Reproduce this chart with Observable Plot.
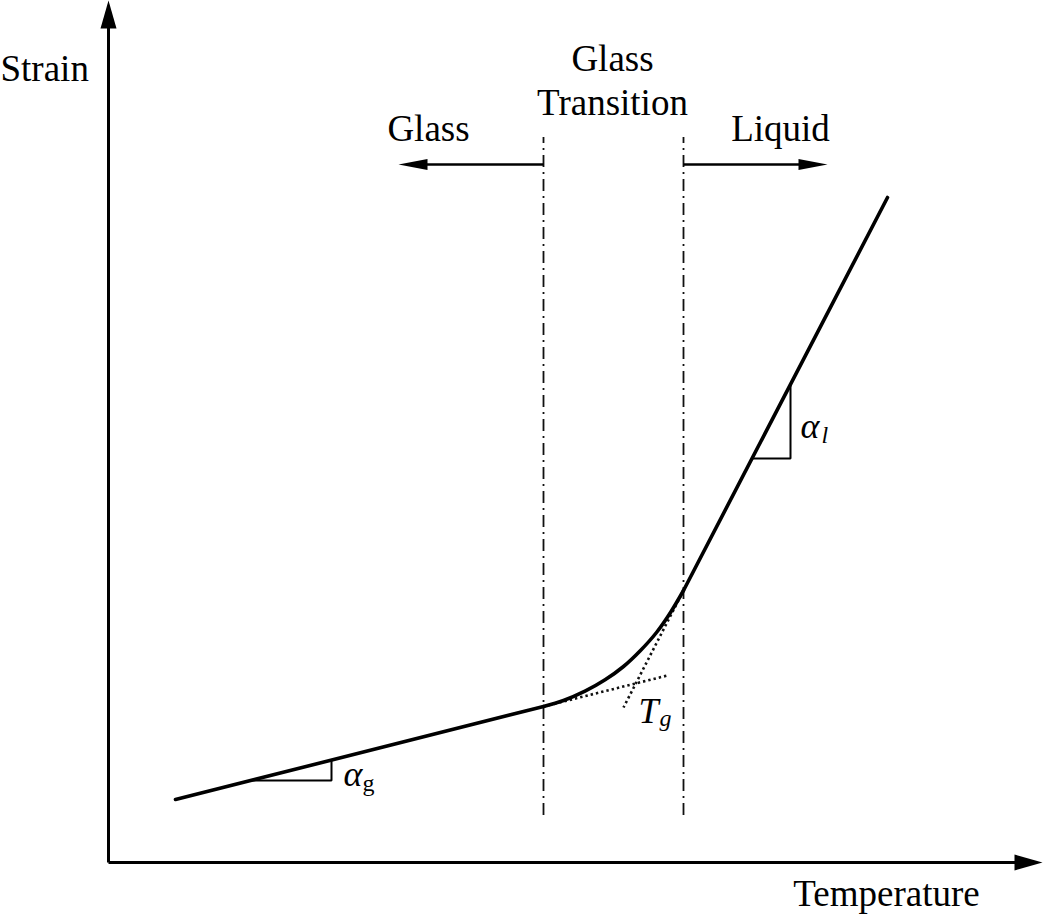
<!DOCTYPE html>
<html>
<head>
<meta charset="utf-8">
<script src="https://cdn.jsdelivr.net/npm/d3@7"></script>
<script src="https://cdn.jsdelivr.net/npm/@observablehq/plot@0.6"></script>
<style>
  html, body { margin: 0; padding: 0; background: #fff; }
  #chart svg { display: block; }
</style>
</head>
<body>
<div id="chart"></div>
<script>
// Schematic data (temperature, strain) in arbitrary units; origin = axes corner
const yAxisLine = [[0, 0], [0, 845]];
const xAxisLine = [[0, 0], [910, 0]];
const glassLine = [[67, 63], [435, 156]];
const transitionCurve = [[435, 156], [455, 162], [476.5, 171.3], [496.6, 182.7], [515, 196], [532, 212], [548, 230], [562, 250], [575, 272]];
const liquidLine = [[575, 272], [779, 665]];
const glassExtension = [[435, 156], [559, 187]];
const liquidExtension = [[575, 272], [515, 155]];
const regionBounds = [435, 575];
const regionBoundsSpan = [47, 725];
const glassSlopeTri = [[142, 82], [223, 82], [223, 102]];
const liquidSlopeTri = [[643, 404], [682, 404], [682, 478]];
const glassArrow = [[300, 698], [435, 698]];
const liquidArrow = [[575, 698], [709, 698]];
const axisHeads = [{x: 0, y: 862, rot: -90}, {x: 934, y: 0, rot: 0}];
const regionHeads = [{x: 290, y: 698, rot: 180}, {x: 719, y: 698, rot: 0}];
const yTitle = [{x: -108, y: 782, text: "Strain"}];
const centeredLabels = [
  {x: 778, y: -43, text: "Temperature"},
  {x: 504, y: 792, text: "Glass"},
  {x: 504, y: 748, text: "Transition"},
  {x: 320, y: 722, text: "Glass"},
  {x: 672, y: 722, text: "Liquid"}
];
const mathMain = [
  {x: 530, y: 140, text: "T"},
  {x: 235, y: 77, text: "α"},
  {x: 692, y: 425, text: "α"}
];
const mathSubItalic = [
  {x: 551, y: 137, text: "g"},
  {x: 713, y: 420, text: "l"}
];
const mathSubUpright = [
  {x: 254, y: 72, text: "g"}
];

function arrowHead(len, hw) {
  return {
    draw(context) {
      context.moveTo(0, 0);
      context.lineTo(-len, -hw);
      context.lineTo(-len, hw);
      context.closePath();
    }
  };
}

const font = "'Liberation Serif', 'Times New Roman', serif";

const chart = Plot.plot({
  width: 1050,
  height: 922,
  margin: 0,
  x: {domain: [-108, 942], axis: null},
  y: {domain: [-60, 862], axis: null},
  style: {fontFamily: font, background: "#fff", color: "#000"},
  marks: [
    // region boundaries (dash-dot)
    Plot.ruleX(regionBounds, {y1: regionBoundsSpan[0], y2: regionBoundsSpan[1], stroke: "#111", strokeWidth: 1.8, strokeDasharray: "12,5,2,5"}),
    // dotted tangent extensions
    Plot.line(glassExtension, {stroke: "#111", strokeWidth: 2.6, strokeDasharray: "2.4,3", strokeLinecap: "butt"}),
    Plot.line(liquidExtension, {stroke: "#111", strokeWidth: 2.6, strokeDasharray: "2.4,3", strokeLinecap: "butt"}),
    // axes
    Plot.line(yAxisLine, {stroke: "#000", strokeWidth: 3, strokeLinecap: "butt"}),
    Plot.line(xAxisLine, {stroke: "#000", strokeWidth: 3, strokeLinecap: "butt"}),
    Plot.dot(axisHeads, {x: "x", y: "y", rotate: "rot", symbol: arrowHead(28, 8), fill: "#000", stroke: "none", r: 5}),
    // region arrows
    Plot.line(glassArrow, {stroke: "#000", strokeWidth: 2.5, strokeLinecap: "butt"}),
    Plot.line(liquidArrow, {stroke: "#000", strokeWidth: 2.5, strokeLinecap: "butt"}),
    Plot.dot(regionHeads, {x: "x", y: "y", rotate: "rot", symbol: arrowHead(29, 5.5), fill: "#000", stroke: "none", r: 5}),
    // slope triangles
    Plot.line(glassSlopeTri, {stroke: "#000", strokeWidth: 2, strokeLinejoin: "miter", strokeLinecap: "butt"}),
    Plot.line(liquidSlopeTri, {stroke: "#000", strokeWidth: 2, strokeLinejoin: "miter", strokeLinecap: "butt"}),
    // strain curve
    Plot.line(glassLine, {stroke: "#000", strokeWidth: 3.6}),
    Plot.line(transitionCurve, {stroke: "#000", strokeWidth: 3.6, curve: "catmull-rom"}),
    Plot.line(liquidLine, {stroke: "#000", strokeWidth: 3.6}),
    // labels
    Plot.text(yTitle, {x: "x", y: "y", text: "text", textAnchor: "start", lineAnchor: "bottom", fontSize: 37, fill: "#000"}),
    Plot.text(centeredLabels, {x: "x", y: "y", text: "text", textAnchor: "middle", lineAnchor: "bottom", fontSize: 37, fill: "#000"}),
    Plot.text(mathMain, {x: "x", y: "y", text: "text", textAnchor: "start", lineAnchor: "bottom", fontSize: 36, fontStyle: "italic", fill: "#000"}),
    Plot.text(mathSubItalic, {x: "x", y: "y", text: "text", textAnchor: "start", lineAnchor: "bottom", fontSize: 24, fontStyle: "italic", fill: "#000"}),
    Plot.text(mathSubUpright, {x: "x", y: "y", text: "text", textAnchor: "start", lineAnchor: "bottom", fontSize: 24, fill: "#000"})
  ]
});
document.getElementById("chart").appendChild(chart);
</script>
</body>
</html>
